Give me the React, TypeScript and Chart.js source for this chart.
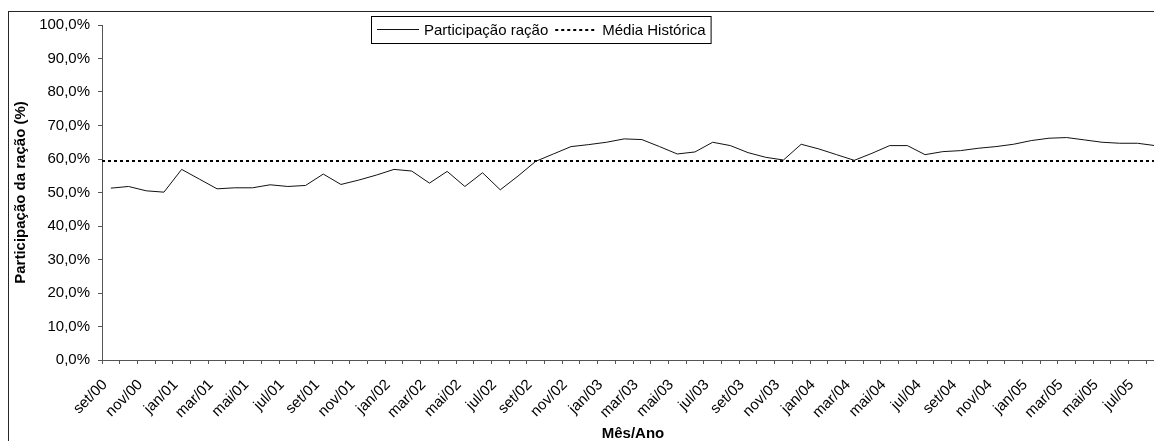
import React, { useEffect, useRef } from 'react';
import { Chart, registerables } from 'chart.js';

Chart.register(...registerables);

const FONT = "'Liberation Sans', Arial, Helvetica, sans-serif";

const months = [
  'set/00', 'out/00', 'nov/00', 'dez/00',
  'jan/01', 'fev/01', 'mar/01', 'abr/01', 'mai/01', 'jun/01', 'jul/01', 'ago/01', 'set/01', 'out/01', 'nov/01', 'dez/01',
  'jan/02', 'fev/02', 'mar/02', 'abr/02', 'mai/02', 'jun/02', 'jul/02', 'ago/02', 'set/02', 'out/02', 'nov/02', 'dez/02',
  'jan/03', 'fev/03', 'mar/03', 'abr/03', 'mai/03', 'jun/03', 'jul/03', 'ago/03', 'set/03', 'out/03', 'nov/03', 'dez/03',
  'jan/04', 'fev/04', 'mar/04', 'abr/04', 'mai/04', 'jun/04', 'jul/04', 'ago/04', 'set/04', 'out/04', 'nov/04', 'dez/04',
  'jan/05', 'fev/05', 'mar/05', 'abr/05', 'mai/05', 'jun/05', 'jul/05', 'ago/05',
];

const participacaoRacao = [
  51.3, 51.8, 50.5, 50.1, 56.9, 54.0, 51.1, 51.4, 51.4, 52.3,
  51.8, 52.1, 55.5, 52.4, 53.7, 55.2, 56.9, 56.4, 52.8, 56.3,
  51.8, 55.9, 50.8, 54.9, 59.3, 61.5, 63.7, 64.3, 65.0, 66.0,
  65.8, 63.7, 61.5, 62.1, 65.0, 64.0, 61.9, 60.5, 59.7, 64.4,
  63.0, 61.3, 59.6, 61.7, 64.0, 64.0, 61.3, 62.2, 62.5, 63.2,
  63.7, 64.4, 65.5, 66.2, 66.4, 65.7, 65.0, 64.7, 64.7, 64.0,
];

const mediaHistorica = 59.4;

const yTicks = { min: 0, max: 100, step: 10 };

const seriesNames = ['Participação ração', 'Média Histórica'];

const boxLegend = {
  id: 'boxLegend',
  afterDraw(chart: any) {
    const ctx = chart.ctx as CanvasRenderingContext2D;
    const dsets = chart.data.datasets;
    ctx.save();
    ctx.font = `15px ${FONT}`;
    const left = 371;
    const top = 16;
    const h = 27;
    const midY = top + h / 2;
    const sample = 42;
    let x = left + 6;
    const parts: any[] = [];
    dsets.forEach((ds: any, i: number) => {
      const w = ctx.measureText(ds.label).width;
      parts.push({ ds, x, w });
      x += sample + 5 + w + (i < dsets.length - 1 ? 7 : 5);
    });
    const right = x;
    ctx.fillStyle = '#fff';
    ctx.fillRect(left, top, right - left, h);
    ctx.strokeStyle = '#000';
    ctx.lineWidth = 1;
    ctx.setLineDash([]);
    ctx.strokeRect(left + 0.5, top + 0.5, right - left, h);
    parts.forEach((p) => {
      const ds = p.ds;
      ctx.save();
      ctx.strokeStyle = ds.borderColor;
      ctx.lineWidth = ds.borderWidth;
      ctx.setLineDash(ds.borderDash || []);
      ctx.beginPath();
      const ly = ds.borderWidth % 2 === 1 ? Math.floor(midY) + 0.5 : Math.round(midY);
      ctx.moveTo(p.x, ly);
      ctx.lineTo(p.x + sample, ly);
      ctx.stroke();
      ctx.restore();
      ctx.fillStyle = '#000';
      ctx.textBaseline = 'middle';
      ctx.textAlign = 'left';
      ctx.fillText(ds.label, p.x + sample + 5, midY + 1);
    });
    ctx.restore();
  },
};

export default function App() {
  const ref = useRef<HTMLCanvasElement | null>(null);

  useEffect(() => {
    if (!ref.current) return;
    const chart = new Chart(ref.current, {
      type: 'line',
      data: {
        labels: months,
        datasets: [
          {
            label: seriesNames[0],
            data: participacaoRacao,
            xAxisID: 'x',
            yAxisID: 'y',
            borderColor: '#111',
            borderWidth: 1,
            pointRadius: 0,
            tension: 0,
            fill: false,
          },
          {
            label: seriesNames[1],
            data: [
              { x: 0, y: mediaHistorica },
              { x: 1, y: mediaHistorica },
            ],
            xAxisID: 'x2',
            yAxisID: 'y',
            borderColor: '#000',
            borderWidth: 2,
            borderDash: [3, 3],
            pointRadius: 0,
            tension: 0,
            fill: false,
          } as any,
        ],
      },
      options: {
        animation: false,
        responsive: false,
        devicePixelRatio: 1,
        events: [],
        layout: { padding: { left: 0, top: 25, right: 13, bottom: 0 } },
        plugins: {
          legend: { display: false },
          tooltip: { enabled: false },
        },
        scales: {
          x: {
            type: 'category',
            offset: true,
            grid: { offset: true, drawOnChartArea: false, drawTicks: true, tickLength: 4, color: '#555' },
            border: { display: true, color: '#555', width: 1 },
            ticks: {
              autoSkip: false,
              minRotation: 45,
              maxRotation: 45,
              padding: 12,
              labelOffset: -6,
              color: '#000',
              font: { family: FONT, size: 15 },
              callback: function (this: any, val: any, idx: number) {
                return idx % 2 === 0 ? this.getLabelForValue(val) : '';
              },
            },
            title: {
              display: true,
              text: 'Mês/Ano',
              color: '#000',
              font: { family: FONT, size: 15, weight: 'bold' },
              padding: { top: 0, bottom: 0 },
            },
            afterFit: (s: any) => {
              s.height = 83;
            },
          },
          x2: {
            type: 'linear',
            axis: 'x',
            display: false,
            min: 0,
            max: 1,
          } as any,
          y: {
            min: yTicks.min,
            max: yTicks.max,
            grid: { drawOnChartArea: false, drawTicks: true, tickLength: 4, color: '#555' },
            border: { display: true, color: '#555', width: 1 },
            ticks: {
              stepSize: yTicks.step,
              padding: 8,
              color: '#000',
              font: { family: FONT, size: 15 },
              callback: (v: any) => Number(v).toFixed(1).replace('.', ',') + '%',
            },
            title: {
              display: true,
              text: 'Participação da ração (%)',
              color: '#000',
              font: { family: FONT, size: 15, weight: 'bold' },
              padding: { top: 12, bottom: 0 },
            },
            afterFit: (s: any) => {
              s.width = 102;
            },
          },
        },
      } as any,
      plugins: [boxLegend],
    });
    return () => chart.destroy();
  }, []);

  return (
    <div
      style={{
        position: 'fixed',
        left: 0,
        top: 0,
        width: 1154,
        height: 441,
        overflow: 'hidden',
        background: '#fff',
      }}
    >
      <div
        style={{
          position: 'absolute',
          left: 8,
          top: 11,
          width: 1300,
          height: 600,
          border: '1px solid #262626',
        }}
      />
      <canvas
        ref={ref}
        width={1180}
        height={443}
        style={{ position: 'absolute', left: 0, top: 0 }}
      />
    </div>
  );
}
